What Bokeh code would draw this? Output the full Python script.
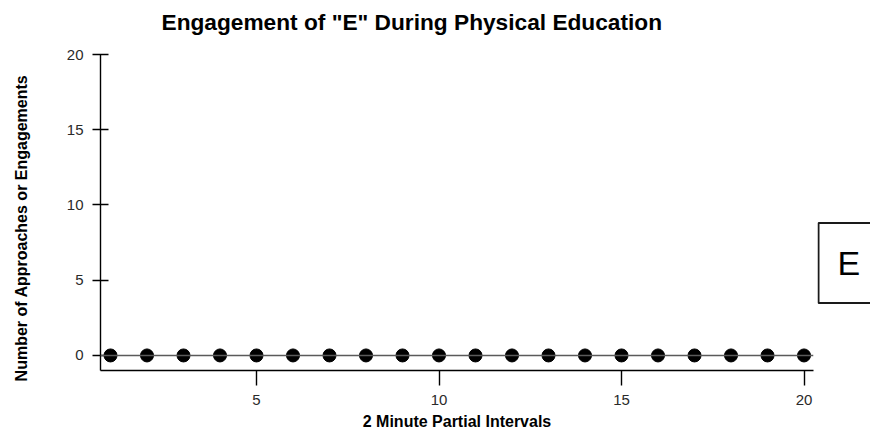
from bokeh.plotting import figure
from bokeh.layouts import row, column
from bokeh.models import Span, Label, FixedTicker, Range1d, Title
from bokeh.embed import file_html
from bokeh.resources import INLINE

# Data
intervals = [1, 2, 3, 4, 5, 6, 7, 8, 9, 10, 11, 12, 13, 14, 15, 16, 17, 18, 19, 20]
engagements = [0, 0, 0, 0, 0, 0, 0, 0, 0, 0, 0, 0, 0, 0, 0, 0, 0, 0, 0, 0]
x_ticks = [5, 10, 15, 20]
y_ticks = [0, 5, 10, 15, 20]
student = "E"
title_text = 'Engagement of "E" During Physical Education'

FONT = "Liberation Sans"
H = 432
TH = 42          # height of the title strip
W_MAIN = 817

# title strip
tfig = figure(width=W_MAIN, height=TH, output_backend="svg", toolbar_location=None,
              x_axis_type=None, y_axis_type=None,
              min_border_left=100, min_border_right=4, min_border_top=0, min_border_bottom=0)
tfig.outline_line_color = None
tfig.grid.grid_line_color = None
tfig.title.text = ""
t = Title(text=title_text, align="left",
          text_font=FONT, text_font_size="22.7px", text_font_style="bold", text_color="black",
          offset=61, standoff=12)
tfig.add_layout(t, "above")

# main chart
p = figure(width=W_MAIN, height=H - TH, output_backend="svg", toolbar_location=None,
           x_range=Range1d(0.726, 20.26), y_range=Range1d(-1, 20),
           min_border_left=100, min_border_right=4, min_border_top=12, min_border_bottom=62)
p.outline_line_color = None
p.grid.grid_line_color = None
p.background_fill_color = "white"

p.add_layout(Span(location=0, dimension="width", line_color="#5a5a5a", line_width=1.6))
p.scatter(intervals, engagements, size=13, color="black", marker="circle")

for ax in (p.xaxis[0], p.yaxis[0]):
    ax.axis_line_color = "black"
    ax.axis_line_width = 1.4
    ax.major_tick_line_color = "black"
    ax.major_tick_line_width = 1.4
    ax.minor_tick_line_color = None
    ax.major_label_text_font = FONT
    ax.major_label_text_font_size = "15px"
    ax.major_label_text_color = "#2a2a2a"
    ax.axis_label_text_font = FONT
    ax.axis_label_text_font_size = "16px"
    ax.axis_label_text_font_style = "bold"
    ax.axis_label_text_color = "black"

p.xaxis.ticker = FixedTicker(ticks=x_ticks)
p.xaxis.major_tick_in = 0
p.xaxis.major_tick_out = 15
p.xaxis.major_label_standoff = 9
p.xaxis.axis_label = "2 Minute Partial Intervals"
p.xaxis.axis_label_standoff = 5

p.yaxis.ticker = FixedTicker(ticks=y_ticks)
p.yaxis.major_tick_in = 8
p.yaxis.major_tick_out = 8
p.yaxis.major_label_standoff = 9
p.yaxis.axis_label = "Number of Approaches or Engagements" + "\u00a0" * 7
p.yaxis.axis_label_standoff = 34

# side panel holding the boxed student label
side = figure(width=870 - W_MAIN, height=H, output_backend="svg", toolbar_location=None,
              x_range=Range1d(0, 870 - W_MAIN), y_range=Range1d(0, H),
              x_axis_type=None, y_axis_type=None,
              min_border_left=0, min_border_right=0, min_border_top=0, min_border_bottom=0)
side.outline_line_color = None
side.grid.grid_line_color = None

box = Label(x=1, y=169.5, x_units="data", y_units="data", text=student,
            text_font=FONT, text_font_size="34px", text_color="black",
            text_align="left", text_baseline="middle",
            border_line_color="#1a1a1a", border_line_width=2,
            background_fill_color="white",
            padding=dict(left=19, right=40, top=21, bottom=21))
side.add_layout(box)

layout = row(column(tfig, p, spacing=0), side, spacing=0)
open("out.html", "w").write(file_html(layout, INLINE))
